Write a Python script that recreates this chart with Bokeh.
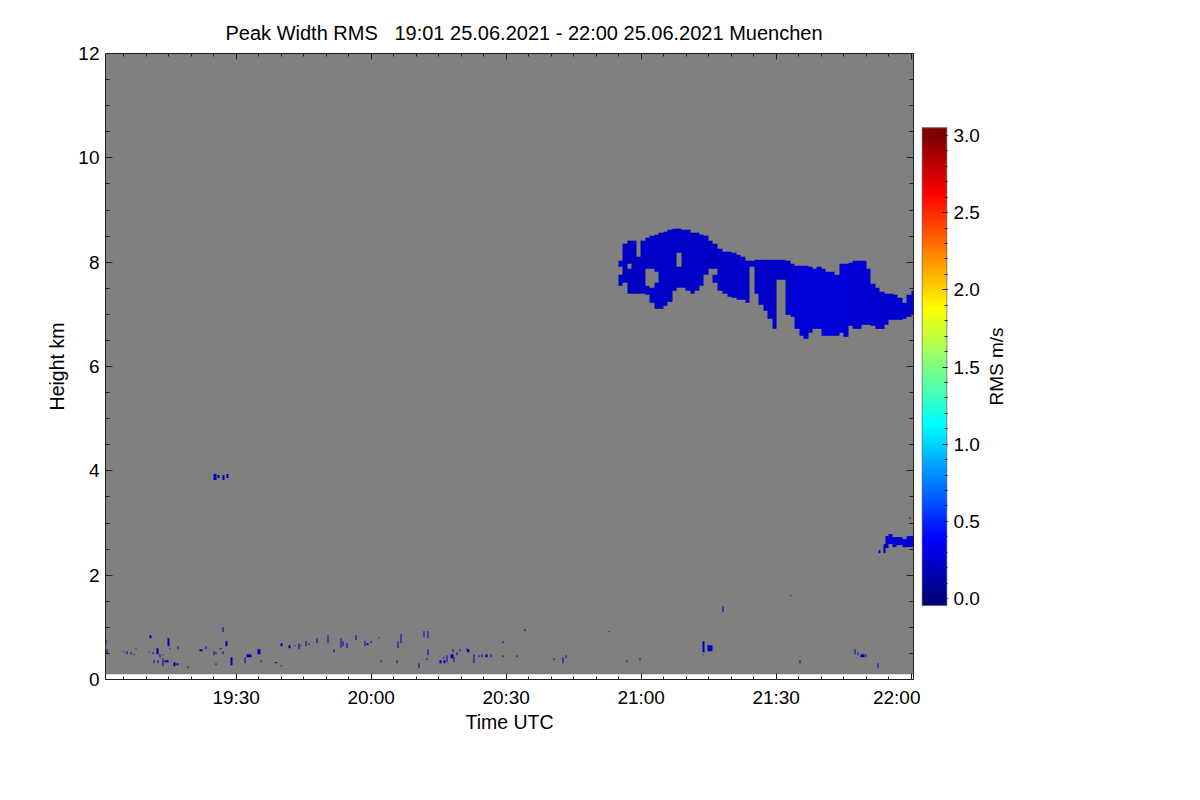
import numpy as np
from bokeh.plotting import figure
from bokeh.models import LinearColorMapper, FixedTicker, LinearAxis, Range1d
from bokeh.layouts import row
from bokeh.embed import file_html
from bokeh.resources import INLINE

TITLE = "Peak Width RMS\u00a0\u00a0\u00a019:01 25.06.2021 - 22:00 25.06.2021 Muenchen"

# time axis in minutes after 19:00 UTC
x_tick_minutes = [30, 60, 90, 120, 150, 180]
x_tick_labels = ["19:30", "20:00", "20:30", "21:00", "21:30", "22:00"]
y_ticks = [0, 2, 4, 6, 8, 10, 12]
cbar_ticks = [0.0, 0.5, 1.0, 1.5, 2.0, 2.5, 3.0]
cbar_labels = ["0.0", "0.5", "1.0", "1.5", "2.0", "2.5", "3.0"]

time_start, time_end = 0.96, 180.52      # 19:00:58 .. 22:00:31
height_bottom, height_top = 0.1, 12.0    # measured range (km)

# upper-level cloud, one-minute columns: minute, bottom km, top km, rms m/s
cloud_minute = [115, 115, 116, 117, 117, 118, 119, 120, 121, 121, 122, 122, 123, 123,
                124, 125, 126, 127, 128, 128, 129, 130, 131, 132, 133, 134, 135,
                136, 136, 137, 138, 139, 140, 141, 142, 143, 144, 145, 146, 147, 148,
                149, 150, 151, 152, 153, 154, 155, 156, 157, 158, 159, 160, 161, 162,
                163, 164, 165, 166, 167, 168, 169, 170, 171, 172, 173, 174, 175, 176,
                177, 178, 179, 180]
cloud_bottom = [7.55, 7.90, 7.60, 7.40, 7.95, 7.40, 7.40, 7.40, 7.35, 7.85, 7.20, 7.85, 7.10, 7.80,
                7.10, 7.15, 7.25, 7.45, 7.50, 8.15, 7.50, 7.45, 7.40, 7.45, 7.55, 7.75, 7.87,
                7.60, 7.85, 7.45, 7.38, 7.33, 7.30, 7.28, 7.28, 7.20, 7.90, 7.38, 7.17, 7.05, 6.92,
                6.70, 7.66, 7.66, 6.98, 6.95, 6.70, 6.60, 6.52, 6.65, 6.70, 6.69, 6.60, 6.60, 6.58,
                6.58, 6.65, 6.55, 6.75, 6.69, 6.69, 6.80, 6.80, 6.75, 6.69, 6.70, 6.80, 6.88, 6.88,
                6.88, 6.92, 6.95, 6.98]
cloud_top = [7.75, 8.00, 8.35, 7.85, 8.40, 8.40, 8.10, 8.40, 7.55, 8.45, 7.50, 8.50, 7.60, 8.52,
             8.55, 8.58, 8.60, 8.64, 7.90, 8.64, 8.62, 8.60, 8.55, 8.55, 8.52, 8.50, 8.40,
             7.75, 8.35, 8.25, 8.20, 8.20, 8.17, 8.14, 8.10, 8.00, 8.02, 8.03, 8.03, 8.03, 8.03,
             8.03, 8.03, 8.03, 8.00, 7.95, 7.92, 7.92, 7.92, 7.90, 7.85, 7.90, 7.87, 7.82, 7.82,
             7.76, 7.95, 7.95, 7.97, 8.00, 8.02, 8.00, 7.87, 7.56, 7.52, 7.42, 7.40, 7.40, 7.36,
             7.30, 7.22, 7.35, 7.45]
cloud_rms = [0.20, 0.20, 0.21, 0.21, 0.21, 0.21, 0.21, 0.22, 0.22, 0.22, 0.22, 0.22, 0.22, 0.22,
             0.23, 0.23, 0.22, 0.22, 0.22, 0.22, 0.22, 0.22, 0.22, 0.22, 0.22, 0.22, 0.21,
             0.21, 0.21, 0.22, 0.22, 0.22, 0.22, 0.22, 0.22, 0.22, 0.21, 0.22, 0.22, 0.22, 0.22,
             0.22, 0.22, 0.22, 0.23, 0.24, 0.26, 0.27, 0.26, 0.26, 0.27, 0.28, 0.27, 0.27, 0.26,
             0.26, 0.26, 0.26, 0.25, 0.25, 0.25, 0.24, 0.24, 0.24, 0.24, 0.24, 0.24, 0.25, 0.24,
             0.24, 0.23, 0.24, 0.24]

# small echoes: start minute, duration (min), bottom km, top km, rms m/s
echo_minute = [1.0, 1.1, 5.0, 5.8, 6.4, 7.2, 7.8, 10.8, 10.5, 11.4,
               12.2, 13.0, 11.8, 12.5, 13.6, 13.8, 14.2, 14.6, 15.2, 16.1,
               16.6, 17.0, 19.2, 21.8, 23.2, 25.0, 25.5, 25.4, 26.3, 27.0,
               27.0, 27.6, 28.6, 31.8, 32.5, 33.2, 34.6, 35.4, 38.5, 39.8,
               39.8, 41.5, 42.8, 43.8, 44.3, 45.4, 46.0, 47.8, 50.3, 51.6,
               53.0, 53.6, 54.5, 56.6, 58.5, 59.0, 59.8, 61.6, 62.1, 65.5,
               65.9, 66.5, 70.5, 71.6, 72.5, 72.5, 72.3, 75.3, 76.0, 76.8,
               77.6, 78.2, 78.0, 79.0, 79.5, 75.8, 81.2, 81.6, 82.7, 83.8,
               84.5, 85.4, 86.5, 89.2, 89.2, 92.3, 93.9, 100.5, 102.5, 103.2,
               112.7, 116.7, 119.7, 133.6, 134.7, 133.6, 138.0, 153.2, 155.0, 167.4,
               168.0, 168.8, 169.8, 172.5,
               25.0, 26.0, 27.0, 27.9,
               172.8, 173.7, 174.3, 175.0, 175.8, 176.8, 178.0, 179.0, 179.4]
echo_length = [0.25, 0.25, 0.25, 0.25, 0.25, 0.25, 0.25, 0.5, 0.25, 0.25,
               0.5, 0.25, 0.25, 0.25, 0.25, 0.25, 0.75, 0.5, 0.25, 0.25,
               0.5, 0.25, 0.25, 0.5, 0.25, 0.25, 0.25, 0.25, 0.25, 0.25,
               0.25, 0.5, 0.5, 0.25, 0.75, 0.25, 0.75, 0.25, 0.5, 0.5,
               0.25, 0.5, 0.25, 0.25, 0.25, 0.25, 0.25, 0.25, 0.25, 0.25,
               0.25, 0.25, 0.25, 0.25, 0.25, 0.25, 0.25, 0.25, 0.25, 0.25,
               0.25, 0.25, 0.25, 0.25, 0.25, 0.25, 0.25, 0.25, 0.5, 0.25,
               0.75, 0.25, 0.25, 0.25, 0.25, 0.5, 0.25, 0.25, 0.25, 0.25,
               0.25, 0.25, 0.25, 0.25, 0.25, 0.25, 0.25, 0.25, 0.25, 0.25,
               0.25, 0.25, 0.25, 0.6, 1.1, 0.25, 0.25, 0.25, 0.25, 0.25,
               0.25, 0.75, 0.25, 0.25,
               0.75, 0.5, 0.5, 0.5,
               0.5, 0.6, 0.7, 0.8, 1.0, 1.2, 1.0, 1.52, 0.25]
echo_bottom = [0.69, 0.50, 0.52, 0.50, 0.50, 0.46, 0.59, 0.79, 0.52, 0.48,
               0.50, 0.42, 0.30, 0.32, 0.45, 0.24, 0.33, 0.65, 0.58, 0.26,
               0.28, 0.59, 0.21, 0.54, 0.59, 0.46, 0.48, 0.28, 0.57, 0.49,
               0.91, 0.65, 0.28, 0.32, 0.44, 0.44, 0.50, 0.34, 0.30, 0.65,
               0.26, 0.61, 0.63, 0.59, 0.63, 0.65, 0.67, 0.69, 0.69, 0.52,
               0.61, 0.65, 0.61, 0.75, 0.65, 0.67, 0.69, 0.78, 0.33, 0.30,
               0.61, 0.69, 0.21, 0.81, 0.79, 0.46, 0.36, 0.32, 0.32, 0.34,
               0.40, 0.34, 0.53, 0.46, 0.56, 0.40, 0.55, 0.53, 0.30, 0.42,
               0.44, 0.42, 0.44, 0.69, 0.42, 0.42, 0.92, 0.36, 0.32, 0.40,
               0.89, 0.34, 0.36, 0.52, 0.55, 0.45, 1.28, 1.58, 0.32, 0.50,
               0.46, 0.42, 0.44, 0.21,
               3.83, 3.85, 3.83, 3.85,
               2.41, 2.43, 2.51, 2.59, 2.55, 2.57, 2.53, 2.55, 3.07]
echo_top = [0.75, 0.59, 0.55, 0.54, 0.53, 0.48, 0.62, 0.84, 0.55, 0.51,
            0.61, 0.49, 0.36, 0.36, 0.47, 0.39, 0.37, 0.77, 0.61, 0.34,
            0.31, 0.63, 0.24, 0.59, 0.63, 0.55, 0.52, 0.32, 0.61, 0.55,
            0.98, 0.71, 0.42, 0.42, 0.50, 0.48, 0.59, 0.36, 0.33, 0.69,
            0.28, 0.67, 0.67, 0.69, 0.66, 0.71, 0.70, 0.77, 0.84, 0.59,
            0.79, 0.71, 0.69, 0.84, 0.71, 0.69, 0.71, 0.80, 0.35, 0.38,
            0.71, 0.88, 0.32, 0.94, 0.94, 0.59, 0.41, 0.38, 0.36, 0.46,
            0.50, 0.42, 0.59, 0.52, 0.59, 0.44, 0.61, 0.57, 0.50, 0.46,
            0.48, 0.50, 0.48, 0.73, 0.44, 0.44, 0.95, 0.38, 0.44, 0.46,
            0.92, 0.36, 0.38, 0.73, 0.67, 0.49, 1.42, 1.62, 0.36, 0.59,
            0.52, 0.50, 0.50, 0.30,
            3.93, 3.91, 3.91, 3.93,
            2.47, 2.59, 2.75, 2.77, 2.71, 2.73, 2.69, 2.75, 3.11]
echo_rms = [0.17] * 93 + [0.21, 0.21, 0.17, 0.19, 0.17, 0.17, 0.19, 0.19, 0.20, 0.19, 0.17] \
    + [0.19, 0.19, 0.19, 0.19] + [0.21, 0.23, 0.24, 0.24, 0.25, 0.25, 0.25, 0.25, 0.20]


def jet_palette(n=256):
    cols = []
    for i in range(n):
        x = i / (n - 1)
        r = min(max(1.5 - abs(4 * x - 3), 0), 1)
        g = min(max(1.5 - abs(4 * x - 2), 0), 1)
        b = min(max(1.5 - abs(4 * x - 1), 0), 1)
        cols.append("#%02x%02x%02x" % (int(r * 255), int(g * 255), int(b * 255)))
    return cols


PALETTE = jet_palette()
FONT = "Liberation Sans"
AXIS_COLOR = "#222222"

# common frame geometry (canvas px): all three figures share it
FIG_H = 792
BORDER_TOP, BORDER_BOTTOM = 53, 113


def no_grid(fig):
    fig.xgrid.grid_line_color = None
    fig.ygrid.grid_line_color = None
    fig.xgrid.visible = False
    fig.ygrid.visible = False


# rasterise the measured segments onto the time-height grid
ncol, nrow = 720, 400
dt = (time_end - time_start) / ncol
dh = (height_top - height_bottom) / nrow
grid = np.full((nrow, ncol), np.nan, dtype=np.float32)


def fill(t0, t1, h0, h1, v):
    c0 = max(int(round((t0 - time_start) / dt)), 0)
    c1 = min(max(int(round((t1 - time_start) / dt)), c0 + 1), ncol)
    r0 = max(int(round((h0 - height_bottom) / dh)), 0)
    r1 = min(max(int(round((h1 - height_bottom) / dh)), r0 + 1), nrow)
    grid[r0:r1, c0:c1] = v


for m, b, t, v in zip(cloud_minute, cloud_bottom, cloud_top, cloud_rms):
    fill(m, m + 1, b, t, v)
for m, L, b, t, v in zip(echo_minute, echo_length, echo_bottom, echo_top, echo_rms):
    fill(m, m + L, b, t, v)

mapper = LinearColorMapper(palette=PALETTE, low=0, high=3, nan_color="#808080")

p = figure(width=920, height=FIG_H, output_backend="svg", toolbar_location=None,
           x_range=Range1d(time_start, time_end), y_range=Range1d(0, 12),
           x_axis_location=None, y_axis_location=None,
           min_border_left=105, min_border_right=7,
           min_border_top=BORDER_TOP, min_border_bottom=BORDER_BOTTOM)
no_grid(p)
p.outline_line_color = None
p.background_fill_color = "white"
p.border_fill_color = "white"

p.image(image=[grid], x=time_start, y=height_bottom, dw=time_end - time_start,
        dh=height_top - height_bottom, color_mapper=mapper)

x_minor = list(range(5, 181, 5))
y_minor = [v * 0.5 for v in range(0, 25)]


def make_axis(ticks, minor, labels, tick_in, minor_in, show_labels):
    ax = LinearAxis(ticker=FixedTicker(ticks=ticks, minor_ticks=minor))
    ax.axis_line_color = AXIS_COLOR
    ax.major_tick_line_color = AXIS_COLOR
    ax.minor_tick_line_color = AXIS_COLOR
    ax.major_tick_out = 0
    ax.major_tick_in = tick_in
    ax.minor_tick_out = 0
    ax.minor_tick_in = minor_in
    ax.major_label_text_font = FONT
    ax.major_label_text_color = "black"
    ax.axis_label_text_font = FONT
    ax.axis_label_text_font_style = "normal"
    ax.axis_label_text_color = "black"
    ax.axis_label_text_font_size = "19.5px"
    if labels is not None:
        ax.major_label_overrides = labels
    if show_labels:
        ax.major_label_text_font_size = "19px"
    else:
        ax.major_label_text_font_size = "1px"
        ax.major_label_text_color = None
        ax.major_label_standoff = 0
    return ax


xb = make_axis(x_tick_minutes, x_minor, dict(zip(x_tick_minutes, x_tick_labels)), 6, 3, True)
xb.axis_label = "Time UTC"
xb.major_label_standoff = 7
xb.axis_label_standoff = 0
p.add_layout(xb, "below")
xa = make_axis(x_tick_minutes, x_minor, None, 6, 3, False)
p.add_layout(xa, "above")

yl = make_axis(y_ticks, y_minor, None, 7, 4, True)
yl.axis_label = "Height km"
yl.major_label_standoff = 6
yl.axis_label_standoff = 7
p.add_layout(yl, "left")
yr = make_axis(y_ticks, y_minor, None, 7, 4, False)
p.add_layout(yr, "right")

p.title.text = TITLE
p.title.align = "left"
p.title.offset = 120
p.title.standoff = 20
p.title.text_font = FONT
p.title.text_font_size = "20px"
p.title.text_font_style = "normal"
p.title.text_color = "black"

# colour bar: same frame height as the main plot, range chosen so that the
# bar itself occupies the measured part of it
cb_low, cb_high = -0.045, 3.05
cb_range = (-0.524, 3.531)
cbar_values = np.linspace(cb_low, cb_high, 256).reshape(-1, 1)
cb = figure(width=62, height=FIG_H, output_backend="svg", toolbar_location=None,
            x_range=Range1d(-0.02, 1.02), y_range=Range1d(*cb_range),
            x_axis_location=None, y_axis_location=None,
            min_border_left=1, min_border_right=33,
            min_border_top=BORDER_TOP, min_border_bottom=BORDER_BOTTOM)
no_grid(cb)
cb.outline_line_color = None
cb.border_fill_color = "white"
cb.background_fill_color = "white"
cb.image(image=[cbar_values], x=0, y=cb_low, dw=1, dh=cb_high - cb_low,
         color_mapper=LinearColorMapper(palette=PALETTE, low=0, high=3))
cb.quad(left=0, right=1, bottom=cb_low, top=cb_high, fill_color=None,
        line_color="#6a6a6a", line_width=1)
cbar_minor = [round(v * 0.1, 1) for v in range(0, 31)]
ca = make_axis(cbar_ticks, cbar_minor, dict(zip(cbar_ticks, cbar_labels)), 5, 3, True)
ca.axis_line_color = None
ca.major_label_standoff = 6
cb.add_layout(ca, "right")

# colour-bar title as the label of an otherwise empty axis
lab = figure(width=40, height=FIG_H, output_backend="svg", toolbar_location=None,
             x_range=Range1d(0, 1), y_range=Range1d(0, 1),
             x_axis_location=None, y_axis_location=None,
             min_border_left=18, min_border_right=5,
             min_border_top=BORDER_TOP, min_border_bottom=BORDER_BOTTOM)
no_grid(lab)
lab.outline_line_color = None
lab.border_fill_color = "white"
lab.background_fill_color = "white"
la = LinearAxis(ticker=FixedTicker(ticks=[]), axis_label="RMS m/s")
la.axis_line_color = None
la.major_tick_line_color = None
la.minor_tick_line_color = None
la.major_label_text_font_size = "1px"
la.major_label_standoff = 0
la.axis_label_standoff = 0
la.axis_label_text_font = FONT
la.axis_label_text_font_size = "19px"
la.axis_label_text_font_style = "normal"
la.axis_label_text_color = "black"
lab.add_layout(la, "left")

layout = row(p, cb, lab)
open("out.html", "w").write(file_html(layout, INLINE))
